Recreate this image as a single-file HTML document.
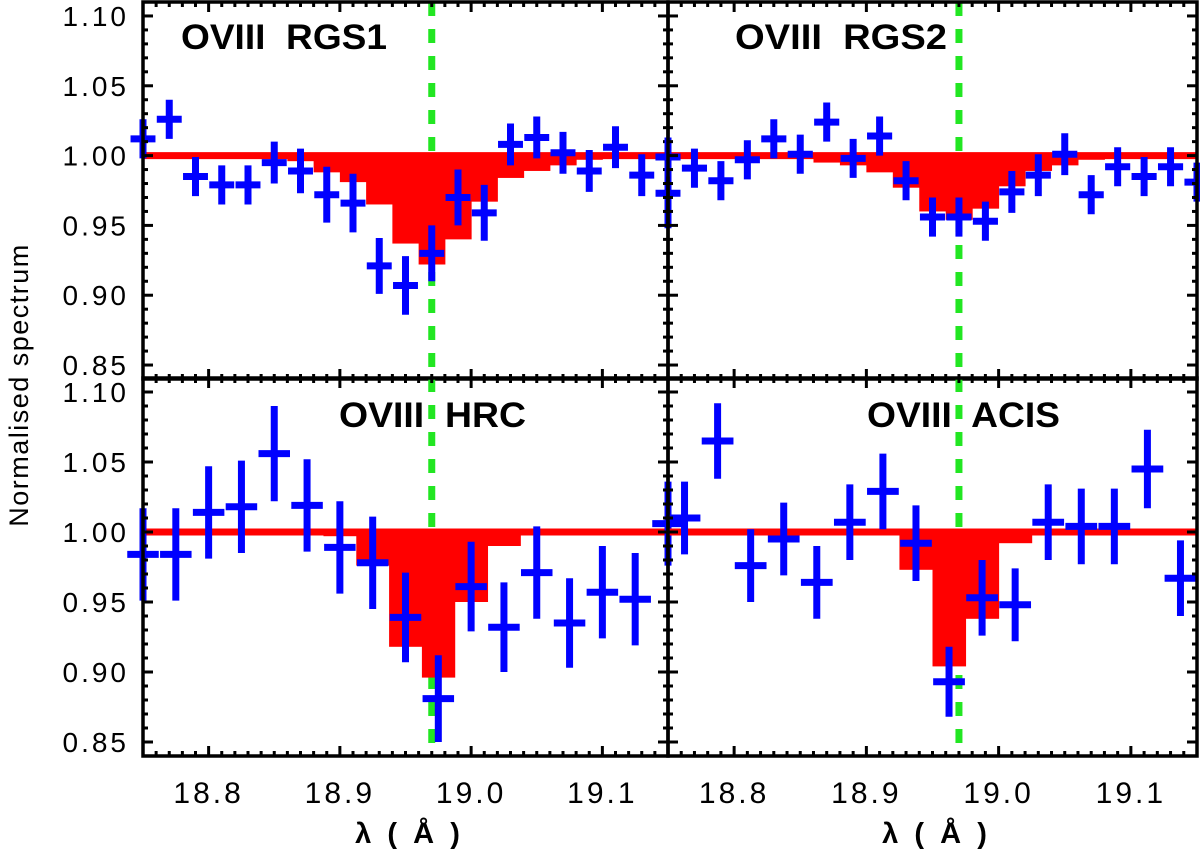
<!DOCTYPE html>
<html><head><meta charset="utf-8"><style>
body{margin:0;background:#fff}
svg{display:block}
text{font-family:"Liberation Sans",sans-serif;white-space:pre}
</style></head><body>
<svg id="chart" width="1200" height="856" viewBox="0 0 1200 856" xmlns="http://www.w3.org/2000/svg"></svg>
<script>
// ---- data ----
const rgs1X=[18.75,18.77,18.79,18.81,18.83,18.85,18.87,18.89,18.91,18.93,18.95,18.97,18.99,19.01,19.03,19.05,19.07,19.09,19.11,19.13,19.15];
const rgs1Y=[1.012,1.026,0.985,0.979,0.979,0.995,0.989,0.972,0.966,0.921,0.907,0.930,0.970,0.959,1.008,1.013,1.002,0.989,1.006,0.986,0.973];
const rgs1E=[0.014,0.014,0.014,0.014,0.014,0.015,0.016,0.02,0.021,0.02,0.021,0.02,0.02,0.02,0.015,0.015,0.015,0.015,0.015,0.015,0.025];
const rgs2X=[18.75,18.77,18.79,18.81,18.83,18.85,18.87,18.89,18.91,18.93,18.95,18.97,18.99,19.01,19.03,19.05,19.07,19.09,19.11,19.13,19.15];
const rgs2Y=[0.999,0.991,0.982,0.997,1.012,1.001,1.024,0.998,1.014,0.982,0.956,0.956,0.953,0.974,0.986,1.001,0.972,0.992,0.985,0.992,0.981];
const rgs2E=[0.014,0.014,0.014,0.014,0.014,0.014,0.014,0.014,0.014,0.014,0.014,0.014,0.014,0.015,0.015,0.015,0.014,0.014,0.014,0.014,0.014];
const hrcX=[18.75,18.775,18.80,18.825,18.85,18.875,18.90,18.925,18.95,18.975,19.00,19.025,19.05,19.075,19.10,19.125,19.15];
const hrcY=[0.984,0.984,1.014,1.018,1.056,1.019,0.989,0.978,0.939,0.881,0.961,0.932,0.971,0.935,0.957,0.952,1.006];
const hrcE=[0.033,0.033,0.033,0.033,0.034,0.033,0.033,0.033,0.032,0.031,0.032,0.032,0.033,0.032,0.033,0.033,0.03];
const acisX=[18.7625,18.7875,18.8125,18.8375,18.8625,18.8875,18.9125,18.9375,18.9625,18.9875,19.0125,19.0375,19.0625,19.0875,19.1125,19.1375];
const acisY=[1.010,1.065,0.976,0.995,0.964,1.007,1.029,0.992,0.893,0.953,0.948,1.007,1.004,1.004,1.045,0.967];
const acisE=[0.026,0.027,0.026,0.026,0.026,0.027,0.027,0.027,0.025,0.027,0.026,0.027,0.027,0.027,0.028,0.027];
const rgs1ModelX=[18.87,18.89,18.91,18.93,18.95,18.97,18.99,19.01,19.03,19.05,19.07,19.09];
const rgs1ModelY=[0.996,0.988,0.981,0.965,0.937,0.922,0.940,0.967,0.984,0.989,0.993,0.997];
const rgs2ModelX=[18.87,18.89,18.91,18.93,18.95,18.97,18.99,19.01,19.03,19.05,19.07];
const rgs2ModelY=[0.995,0.993,0.988,0.977,0.960,0.954,0.962,0.978,0.989,0.993,0.997];
const hrcModelX=[18.90,18.925,18.95,18.975,19.00,19.025];
const hrcModelY=[0.997,0.976,0.918,0.896,0.950,0.990];
const acisModelX=[18.9125,18.9375,18.9625,18.9875,19.0125];
const acisModelY=[0.998,0.973,0.904,0.938,0.992];
const yTicks=[0.85,0.90,0.95,1.00,1.05,1.10];
const yTickLabels=["0.85","0.90","0.95","1.00","1.05","1.10"];
const xTicks=[18.8,18.9,19.0,19.1];
const xTickLabels=["18.8","18.9","19.0","19.1"];
const lineCenter=18.97;

const NS="http://www.w3.org/2000/svg";
const svg=document.getElementById('chart');
function el(tag,attrs,parent){const e=document.createElementNS(NS,tag);for(const k in attrs)e.setAttribute(k,attrs[k]);(parent||svg).appendChild(e);return e;}

const XMIN=18.75,XMAX=19.15,YMIN=0.84,YMAX=1.11;
const panels=[
 {name:'rgs1',title:'OVIII  RGS1',tl:206,tx:181,ty:49,x0:143,x1:668,y0:2,y1:379,X:rgs1X,Y:rgs1Y,E:rgs1E,hw:0.0095,MX:rgs1ModelX,MY:rgs1ModelY,bw:0.02,left:true,bottom:false},
 {name:'rgs2',title:'OVIII  RGS2',tl:212,tx:735,ty:49,x0:668,x1:1197,y0:2,y1:379,X:rgs2X,Y:rgs2Y,E:rgs2E,hw:0.0095,MX:rgs2ModelX,MY:rgs2ModelY,bw:0.02,left:false,bottom:false},
 {name:'hrc',title:'OVIII  HRC',tl:187,tx:339,ty:427,x0:143,x1:668,y0:378,y1:756,X:hrcX,Y:hrcY,E:hrcE,hw:0.012,MX:hrcModelX,MY:hrcModelY,bw:0.025,left:true,bottom:true},
 {name:'acis',title:'OVIII  ACIS',tl:193,tx:867,ty:427,x0:668,x1:1197,y0:378,y1:756,X:acisX,Y:acisY,E:acisE,hw:0.012,MX:acisModelX,MY:acisModelY,bw:0.025,left:false,bottom:true}
];

panels.forEach(p=>{
  const xs=v=>p.x0+(v-XMIN)/(XMAX-XMIN)*(p.x1-p.x0);
  const ys=v=>p.y1-(v-YMIN)/(YMAX-YMIN)*(p.y1-p.y0);
  const g=el('g',{});
  
  
  const gl=el('line',{x1:xs(lineCenter),x2:xs(lineCenter),y1:p.y0,y2:p.y1,stroke:'#22e622','stroke-width':7,'stroke-dasharray':'14 13'},g);
  
  
  p.MX.forEach((c,i)=>{
    const r=el('rect',{x:xs(c-p.bw/2),width:xs(c+p.bw/2)-xs(c-p.bw/2)+0.5,y:ys(1.0),height:ys(p.MY[i])-ys(1.0),fill:'#ff0000'},g);
    
    
  });
  const rl=el('line',{x1:p.x0,x2:p.x1,y1:ys(1.0),y2:ys(1.0),stroke:'#ff0000','stroke-width':7},g);
  
  
  p.X.forEach((x,i)=>{
    const pg=el('g',{stroke:'#0000ff','stroke-width':7},g);
    
    
    el('line',{x1:xs(x),x2:xs(x),y1:ys(p.Y[i]+p.E[i]),y2:ys(p.Y[i]-p.E[i])},pg);
    el('line',{x1:xs(x-p.hw),x2:xs(x+p.hw),y1:ys(p.Y[i]),y2:ys(p.Y[i])},pg);
  });
  const t=el('text',{x:p.tx,y:p.ty,'font-size':35,'font-weight':'bold',fill:'#000','textLength':p.tl,'lengthAdjust':'spacingAndGlyphs'},g);
  t.textContent=p.title;
  
  
  const tk=el('g',{stroke:'#000','stroke-width':3},g);
  
  
  for(let k=0;k<=27;k++){
    const v=YMIN+k*0.01, y=ys(v), major=(Math.round(v*100)%5===0);
    const L=major?10:5;
    el('line',{x1:p.x0,x2:p.x0+L,y1:y,y2:y},tk);
    el('line',{x1:p.x1,x2:p.x1-L,y1:y,y2:y},tk);
  }
  for(let k=0;k<=40;k++){
    const v=XMIN+k*0.01, x=xs(v), major=(Math.round(v*100)%10===0);
    const L=major?10:5;
    el('line',{x1:x,x2:x,y1:p.y1,y2:p.y1-L},tk);
    el('line',{x1:x,x2:x,y1:p.y0,y2:p.y0+L},tk);
  }
  const fr=el('rect',{x:p.x0,y:p.y0,width:p.x1-p.x0,height:p.y1-p.y0,fill:'none',stroke:'#000','stroke-width':3.5},g);
  
  
  if(p.left){
    yTicks.forEach((v,i)=>{
      const t2=el('text',{x:129,y:ys(v)+10,'font-size':28,'text-anchor':'end','letter-spacing':'3',fill:'#000'},g);
      t2.textContent=yTickLabels[i];
      
      
    });
  }
  if(p.bottom){
    xTicks.forEach((v,i)=>{
      const t3=el('text',{x:xs(v),y:803,'font-size':30,'text-anchor':'middle','letter-spacing':'3',fill:'#000'},g);
      t3.textContent=xTickLabels[i];
      
      
    });
    const xt=el('text',{x:(p.x0+p.x1)/2+2,y:843,'font-size':29,'font-weight':'bold','text-anchor':'middle',fill:'#000'},g);
    xt.textContent='λ  (  Å  )';
    
    
  }
});
const yt=el('text',{x:0,y:0,'font-size':27,'text-anchor':'middle','letter-spacing':'1.5',fill:'#000',transform:'translate(28,385) rotate(-90)'});
yt.textContent='Normalised spectrum';


</script>
</body></html>
